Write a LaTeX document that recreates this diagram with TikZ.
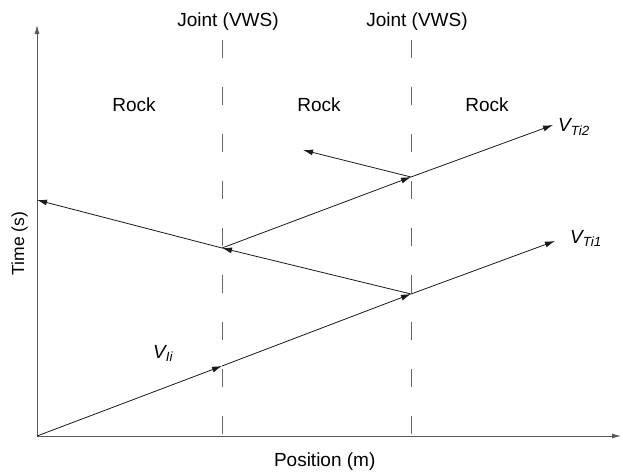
\documentclass[tikz,border=0pt]{standalone}
\usepackage{fontspec}
\setmainfont{Liberation Sans}
\usetikzlibrary{arrows.meta}
\begin{document}
\begin{tikzpicture}[x=1pt,y=-1pt,
  axis/.style={draw=black!65,line width=0.9pt},
  joint/.style={draw=black!60,line width=0.9pt,dash pattern=on 18pt off 29pt},
  ray/.style={draw=black!90,line width=0.8pt,-{Latex[length=10pt,width=6pt]}},
  lbl/.style={font=\fontsize{19}{21}\selectfont,inner sep=0pt,anchor=base},
  vlbl/.style={font=\fontsize{19}{21}\selectfont\itshape,inner sep=0pt,anchor=base west}]
\useasboundingbox (0,0) rectangle (623,471);
% coordinates
\coordinate (O) at (37,436);
\coordinate (Xend) at (621,436);
\coordinate (Yend) at (37,25);
\coordinate (J1t) at (222,40);
\coordinate (J1b) at (222,436);
\coordinate (J2t) at (411,40);
\coordinate (J2b) at (411,436);
\coordinate (A) at (222,366);
\coordinate (B) at (411,294);
\coordinate (C) at (555,241);
\coordinate (D) at (222,248);
\coordinate (E) at (37,200);
\coordinate (F) at (411,177);
\coordinate (G) at (553,125);
\coordinate (H) at (303,150);
% axes
\draw[axis,-{Latex[length=9pt,width=5pt]}] (O) -- (Xend);
\draw[axis,-{Latex[length=9pt,width=5pt]}] (O) -- (Yend);
% joints
\draw[joint] (J1t) -- (J1b);
\draw[joint] (J2t) -- (J2b);
% rays
\draw[ray] (O) -- (A);
\draw[ray] (A) -- (B);
\draw[ray] (B) -- (C);
\draw[ray] (B) -- (D);
\draw[ray] (D) -- (E);
\draw[ray] (D) -- (F);
\draw[ray] (F) -- (G);
\draw[ray] (F) -- (H);
% labels
\node[lbl] (jl1) at (228,26) {Joint (VWS)};
\node[lbl] (jl2) at (417,26) {Joint (VWS)};
\node[lbl] (r1) at (134,111.5) {Rock};
\node[lbl] (r2) at (319,111.5) {Rock};
\node[lbl] (r3) at (487,111.5) {Rock};
\node[lbl,font=\fontsize{17.5}{19}\selectfont,rotate=90] (ty) at (24,243.5) {Time (s)};
\node[lbl] (px) at (324.7,466) {Position (m)};
\node[vlbl] (vi) at (153,358) {V\textsubscript{Ii}};
\node[vlbl] (vt1) at (570,243) {V\textsubscript{Ti1}};
\node[vlbl] (vt2) at (558,131.5) {V\textsubscript{Ti2}};
\end{tikzpicture}
\end{document}
